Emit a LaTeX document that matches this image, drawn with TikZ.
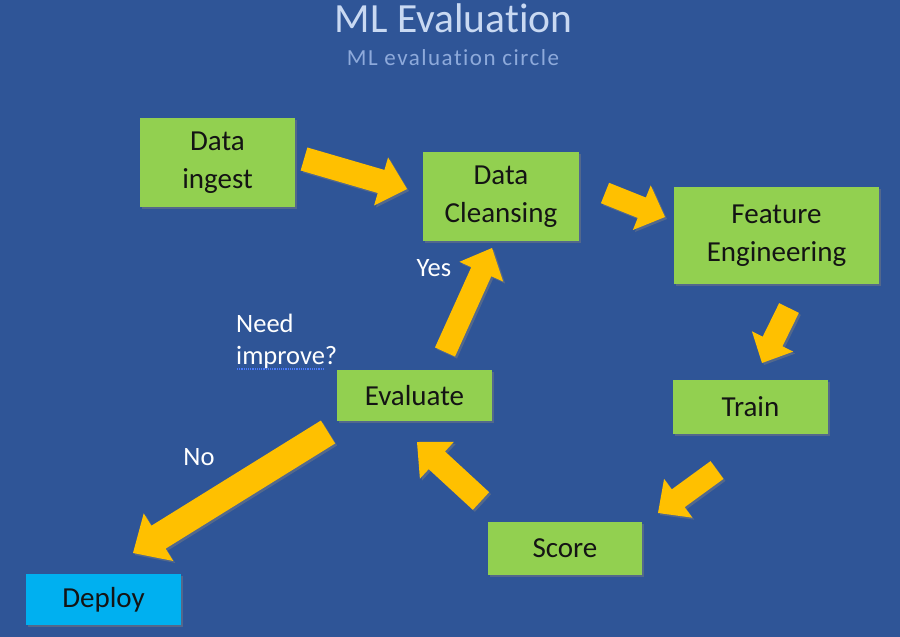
\documentclass[tikz,border=0pt]{standalone}
\usepackage{fontspec}
\setmainfont{Carlito}[Ligatures=NoCommon]
\usetikzlibrary{calc,shadows}
\definecolor{bgblue}{HTML}{2F5597}
\definecolor{boxgreen}{HTML}{92D050}
\definecolor{deployblue}{HTML}{00B0F0}
\definecolor{arrowgold}{HTML}{FFC000}
\definecolor{titlecol}{HTML}{C9D9F2}
\definecolor{subcol}{HTML}{8EAADB}
\definecolor{spellblue}{HTML}{4A7BFF}
\tikzset{
  box/.style={fill=boxgreen, inner sep=0pt, text=black!92, align=center,
    font=\fontsize{29}{38}\selectfont,
    drop shadow={shadow xshift=2pt, shadow yshift=-2pt, opacity=0.45}},
  lbl/.style={text=white, font=\fontsize{26.5}{32}\selectfont, inner sep=0pt, align=left},
  arrowfill/.style={fill=arrowgold,
    drop shadow={shadow xshift=2pt, shadow yshift=-2pt, opacity=0.45}},
}
% #1 tail, #2 tip, #3 half shaft, #4 half head, #5 head length
\newcommand\blockarrow[5]{%
  \coordinate (bc) at ($(#2)!#5!(#1)$);
  \fill[arrowfill] ($(#1)!#3!90:(#2)$) -- ($(bc)!#3!90:(#2)$) -- ($(bc)!#4!90:(#2)$)
    -- (#2) -- ($(bc)!#4!-90:(#2)$) -- ($(bc)!#3!-90:(#2)$) -- ($(#1)!#3!-90:(#2)$) -- cycle;
}
\begin{document}
\begin{tikzpicture}[x=1pt,y=-1pt]
\fill[bgblue] (0,0) rectangle (900,637);
\useasboundingbox (0,0) rectangle (900,637);

\node[text=titlecol, font=\fontsize{41.5}{41.5}\selectfont, inner sep=0pt] (title) at (453.5,18) {ML Evaluation};
\node[text=subcol, font=\fontsize{23}{23}\selectfont\addfontfeature{LetterSpace=6.5}, inner sep=0pt] (sub) at (453,58) {ML evaluation circle};

\node[box, minimum width=155pt, minimum height=89pt] (ingest) at (217.5,162.5) {Data\\ingest};
\node[box, minimum width=156pt, minimum height=89pt] (clean) at (501,196.5) {Data\\Cleansing};
\node[box, minimum width=205pt, minimum height=97pt] (feat) at (776.5,235.5) {Feature\\Engineering};
\node[box, minimum width=155pt, minimum height=54pt] (train) at (750.5,407) {Train};
\node[box, minimum width=154pt, minimum height=53pt] (score) at (565,548.5) {Score};
\node[box, minimum width=155pt, minimum height=51pt] (eval) at (414.5,395.5) {Evaluate};
\node[box, fill=deployblue, minimum width=155pt, minimum height=51pt] (deploy) at (103.5,599.5) {Deploy};

\node[lbl] (yes) at (434,268) {Yes};
\node[lbl, anchor=west] (need) at (236,341) {Need\\improve?};
\node[lbl] (no) at (199,457) {No};
\draw[spellblue, densely dotted, line width=1.2pt] (237,369) -- (325,369);

\coordinate (a1t) at (304,159); \coordinate (a1h) at (407,189);
\coordinate (a2t) at (605,193); \coordinate (a2h) at (665,217);
\coordinate (a3t) at (789,308); \coordinate (a3h) at (762,363);
\coordinate (a4t) at (717,470); \coordinate (a4h) at (658,513);
\coordinate (a5t) at (481,501); \coordinate (a5h) at (417,442);
\coordinate (a6t) at (445,352); \coordinate (a6h) at (492,248);
\coordinate (a7t) at (328,432); \coordinate (a7h) at (133,553);

\blockarrow{a1t}{a1h}{12pt}{25pt}{27pt}
\blockarrow{a2t}{a2h}{11pt}{24pt}{25pt}
\blockarrow{a3t}{a3h}{11pt}{23pt}{24pt}
\blockarrow{a4t}{a4h}{11pt}{24pt}{25pt}
\blockarrow{a5t}{a5h}{12pt}{25pt}{27pt}
\blockarrow{a6t}{a6h}{11pt}{24pt}{26pt}
\blockarrow{a7t}{a7h}{13.5pt}{28pt}{30pt}
\end{tikzpicture}
\end{document}
